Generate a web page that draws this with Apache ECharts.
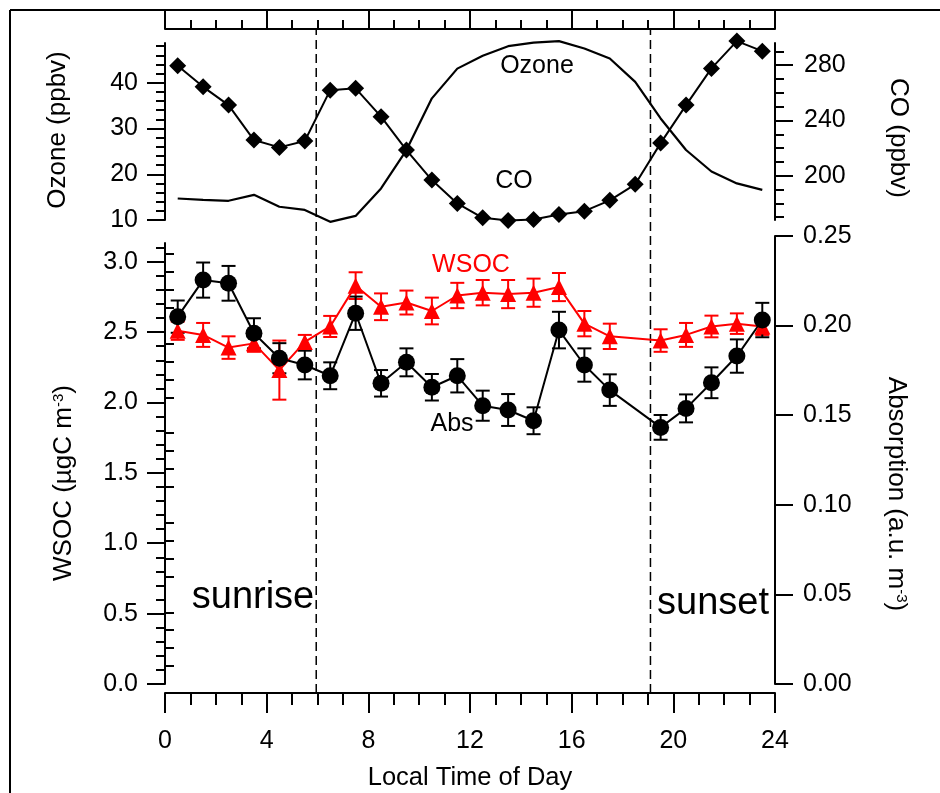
<!DOCTYPE html>
<html><head><meta charset="utf-8">
<script src="https://cdn.jsdelivr.net/npm/echarts@6/dist/echarts.min.js"></script>
<style>html,body{margin:0;padding:0;background:#fff}#c{width:940px;height:793px}</style>
</head><body><div id="c"></div>
<script>
// ---------- data ----------
const hours = [0.5,1.5,2.5,3.5,4.5,5.5,6.5,7.5,8.5,9.5,10.5,11.5,12.5,13.5,14.5,15.5,16.5,17.5,18.5,19.5,20.5,21.5,22.5,23.5];
const ozone = [14.7,14.4,14.2,15.5,12.9,12.2,9.6,10.9,16.9,25.3,36.6,43.1,45.9,48.0,48.8,49.1,47.5,45.3,40.2,32.2,25.3,20.6,18.0,16.6];
const co = [279.5,264.3,251.1,225.8,220.5,225.1,261.9,263.2,242.7,218.6,196.9,180.0,169.6,167.7,168.4,172.0,174.4,182.2,193.8,223.6,251.1,277.6,297.4,290.1];

const aerosolHours = [0.5,1.5,2.5,3.5,4.5,5.5,6.5,7.5,8.5,9.5,10.5,11.5,12.5,13.5,14.5,15.5,16.5,17.5,19.5,20.5,21.5,22.5,23.5];
const wsoc = [2.51,2.48,2.39,2.42,2.23,2.43,2.54,2.83,2.68,2.71,2.65,2.76,2.78,2.77,2.78,2.82,2.56,2.47,2.44,2.48,2.54,2.56,2.54];
const wsocErr = [0.065,0.085,0.08,0.06,0.21,0.05,0.075,0.095,0.095,0.085,0.095,0.09,0.09,0.1,0.1,0.1,0.09,0.09,0.08,0.085,0.077,0.073,0.06];
const absorption = [0.205,0.2254,0.2236,0.1957,0.1818,0.178,0.172,0.2069,0.1678,0.1795,0.1656,0.172,0.1553,0.1529,0.1469,0.1975,0.178,0.164,0.1432,0.1538,0.1681,0.183,0.2031];
const absErr = [0.009,0.0098,0.0097,0.0084,0.0084,0.008,0.0075,0.0093,0.0074,0.0078,0.0074,0.0093,0.0084,0.0089,0.0075,0.0102,0.0093,0.0088,0.0069,0.0078,0.0086,0.0093,0.0096];

const sunEvents = [5.95, 19.1];

// tick labels
const timeTicks = [0,4,8,12,16,20,24];
const ozoneTicks = [10,20,30,40];
const coTicks = [200,240,280];
const wsocTicks = [0,0.5,1.0,1.5,2.0,2.5,3.0];
const absTicks = [0,0.05,0.10,0.15,0.20,0.25];

// ---------- helpers ----------
const FONT = '"Liberation Sans", Arial, Helvetica, sans-serif';
const TICK_FS = 25;
function steps(a, b, s, skip) {
  const out = [];
  for (let i = 0; a + i * s <= b + 1e-9; i++) {
    const v = +(a + i * s).toFixed(4);
    if (!skip.some(m => Math.abs(m - v) < 1e-6)) out.push(v);
  }
  return out;
}
const ozoneMinor = steps(10, 48, 2, ozoneTicks);
const coMinor = steps(170, 290, 10, coTicks);
const wsocMinor = steps(0, 3.1, 0.1, wsocTicks);
const absMinor = steps(0, 0.25, 0.01, absTicks);

const pair = (xs, ys) => xs.map((x, i) => [x, ys[i]]);
const trip = (xs, ys, es) => xs.map((x, i) => [x, ys[i], es[i]]);

function majorY(gridIndex, position, min, max, ticks, fmt, margin) {
  return {
    type: 'value', gridIndex, position, min, max,
    axisLine: {show: true, onZero: false, lineStyle: {color: '#000', width: 2}},
    axisTick: {show: true, inside: false, length: 18, lineStyle: {color: '#000', width: 2}, customValues: ticks},
    axisLabel: {show: true, customValues: ticks, formatter: fmt, margin, color: '#000', fontSize: TICK_FS, fontFamily: FONT},
    splitLine: {show: false}
  };
}
function minorY(gridIndex, position, min, max, ticks) {
  return {
    type: 'value', gridIndex, position, min, max,
    axisLine: {show: false},
    axisTick: {show: true, inside: false, length: 9, lineStyle: {color: '#000', width: 2}, customValues: ticks},
    axisLabel: {show: false},
    splitLine: {show: false}
  };
}

function errorBars(color, xAxisIndex, yAxisIndex, data) {
  return {
    type: 'custom', xAxisIndex, yAxisIndex, data, silent: true,
    encode: {x: 0, y: 1},
    renderItem(params, api) {
      const x = api.value(0), y = api.value(1), e = api.value(2);
      const t = api.coord([x, y + e]), b = api.coord([x, y - e]);
      const hw = 7;
      const st = {stroke: color, lineWidth: 2};
      return {type: 'group', children: [
        {type: 'line', shape: {x1: t[0], y1: t[1], x2: b[0], y2: b[1]}, style: st},
        {type: 'line', shape: {x1: t[0] - hw, y1: t[1], x2: t[0] + hw, y2: t[1]}, style: st},
        {type: 'line', shape: {x1: b[0] - hw, y1: b[1], x2: b[0] + hw, y2: b[1]}, style: st}
      ]};
    }
  };
}

function txt(x, y, text, size, color, rot) {
  return {type: 'text', x, y, rotation: rot || 0, silent: true,
    style: {text, fontSize: size, fontFamily: FONT, fill: color || '#000', align: 'center', verticalAlign: 'middle'}};
}
function richTxt(x, y, parts, rot) {
  return {type: 'text', x, y, rotation: rot, silent: true,
    style: {text: parts, align: 'center', verticalAlign: 'middle', fontFamily: FONT, fontSize: 26, fill: '#000',
      rich: {n: {fontSize: 26, fontFamily: FONT, fill: '#000'},
             s: {fontSize: 15, fontFamily: FONT, fill: '#000', verticalAlign: 'top'}}}};
}

const chart = echarts.init(document.getElementById('c'), null, {renderer: 'canvas'});
chart.setOption({
  animation: false,
  backgroundColor: '#fff',
  grid: [
    {left: 165, top: 43, width: 610, height: 177, containLabel: false, outerBoundsMode: 'none'},
    {left: 165, top: 243, width: 610, height: 441, containLabel: false, outerBoundsMode: 'none'},
    {left: 165, top: 236, width: 610, height: 448, containLabel: false, outerBoundsMode: 'none'},
    {left: 165, top: 29, width: 610, height: 664, containLabel: false, outerBoundsMode: 'none'}
  ],
  xAxis: [
    {type: 'value', gridIndex: 0, position: 'top', offset: 14, min: 0, max: 24, interval: 4,
     axisLine: {show: true, onZero: false, lineStyle: {color: '#000', width: 2}},
     axisTick: {show: true, inside: false, length: 19, lineStyle: {color: '#000', width: 2}},
     minorTick: {show: true, splitNumber: 4, length: 9, lineStyle: {color: '#000', width: 2}},
     axisLabel: {show: false}, splitLine: {show: false}},
    {type: 'value', gridIndex: 1, position: 'bottom', offset: 9, min: 0, max: 24, interval: 4,
     axisLine: {show: true, onZero: false, lineStyle: {color: '#000', width: 2}},
     axisTick: {show: true, inside: false, length: 20, lineStyle: {color: '#000', width: 2}},
     minorTick: {show: true, splitNumber: 4, length: 12, lineStyle: {color: '#000', width: 2}},
     axisLabel: {show: true, customValues: timeTicks, margin: 36, color: '#000', fontSize: TICK_FS, fontFamily: FONT},
     splitLine: {show: false}},
    {type: 'value', gridIndex: 2, min: 0, max: 24, show: false},
    {type: 'value', gridIndex: 3, min: 0, max: 24, show: false}
  ],
  yAxis: [
    majorY(0, 'left', 10, 48.7, ozoneTicks, v => String(v), 27),
    minorY(0, 'left', 10, 48.7, ozoneMinor),
    majorY(0, 'right', 168, 296, coTicks, v => String(v), 29),
    minorY(0, 'right', 168, 296, coMinor),
    majorY(1, 'left', 0, 3.133, wsocTicks, v => v.toFixed(1), 27),
    minorY(1, 'left', 0, 3.133, wsocMinor),
    majorY(2, 'right', 0, 0.25, absTicks, v => v.toFixed(2), 28),
    minorY(2, 'right', 0, 0.25, absMinor),
    {type: 'value', gridIndex: 3, min: 0, max: 1, show: false}
  ],
  series: [
    {type: 'custom', xAxisIndex: 3, yAxisIndex: 8, data: sunEvents.map(v => [v]), silent: true,
     encode: {x: 0},
     renderItem(params, api) {
       const x = api.value(0);
       const a = api.coord([x, 0]), b = api.coord([x, 1]);
       return {type: 'line', shape: {x1: a[0], y1: a[1], x2: b[0], y2: b[1]},
               style: {stroke: '#000', lineWidth: 1.5, lineDash: [9, 5]}};
     }},
    {type: 'line', name: 'Ozone', xAxisIndex: 0, yAxisIndex: 0, data: pair(hours, ozone),
     showSymbol: false, symbol: 'none', clip: false, lineStyle: {color: '#000', width: 2.2}},
    {type: 'line', name: 'CO', xAxisIndex: 0, yAxisIndex: 2, data: pair(hours, co),
     symbol: 'diamond', symbolSize: 17, clip: false, itemStyle: {color: '#000'}, lineStyle: {color: '#000', width: 2}},
    errorBars('#ff0000', 1, 4, trip(aerosolHours, wsoc, wsocErr)),
    {type: 'line', name: 'WSOC', xAxisIndex: 1, yAxisIndex: 4, data: pair(aerosolHours, wsoc),
     symbol: 'triangle', symbolSize: 16, clip: false, itemStyle: {color: '#ff0000'}, lineStyle: {color: '#ff0000', width: 2}},
    errorBars('#000', 2, 6, trip(aerosolHours, absorption, absErr)),
    {type: 'line', name: 'Abs', xAxisIndex: 2, yAxisIndex: 6, data: pair(aerosolHours, absorption),
     symbol: 'circle', symbolSize: 17, clip: false, itemStyle: {color: '#000'}, lineStyle: {color: '#000', width: 2}}
  ],
  graphic: [
    {type: 'line', silent: true, shape: {x1: 10, y1: 10, x2: 940, y2: 10}, style: {stroke: '#000', lineWidth: 2}},
    {type: 'line', silent: true, shape: {x1: 10, y1: 10, x2: 10, y2: 793}, style: {stroke: '#000', lineWidth: 2}},
    txt(537, 66, 'Ozone', 25),
    txt(514, 181, 'CO', 25),
    txt(471, 265, 'WSOC', 25, '#ff0000'),
    txt(452, 424, 'Abs', 25),
    txt(253, 598, 'sunrise', 38),
    txt(713, 604, 'sunset', 38),
    txt(58, 130, 'Ozone (ppbv)', 26, '#000', Math.PI / 2),
    txt(898, 138, 'CO (ppbv)', 26, '#000', -Math.PI / 2),
    richTxt(64, 483, '{n|WSOC (µgC m}{s|-3}{n|)}', Math.PI / 2),
    richTxt(896, 494, '{n|Absorption (a.u. m}{s|-3}{n|)}', -Math.PI / 2),
    txt(470, 778, 'Local Time of Day', 25.5)
  ]
});
</script></body></html>
